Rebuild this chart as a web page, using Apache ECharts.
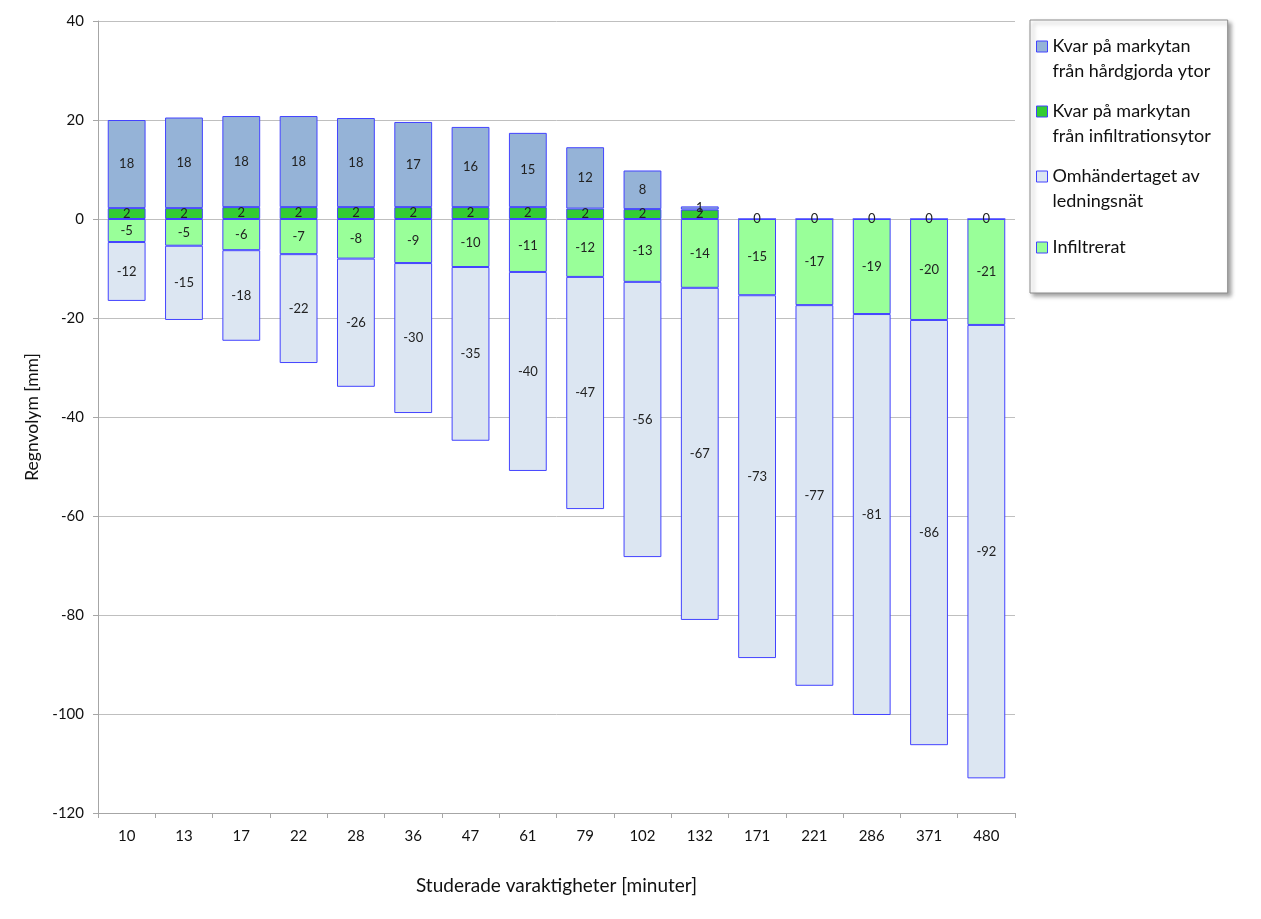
<!DOCTYPE html>
<html>
<head>
<meta charset="utf-8">
<script src="https://cdn.jsdelivr.net/npm/echarts@6/dist/echarts.min.js"></script>
<style>html,body{margin:0;padding:0;background:#fff}#c{width:1261px;height:919px}</style>
</head>
<body>
<div id="c"></div>
<script>
const categories = ['10','13','17','22','28','36','47','61','79','102','132','171','221','286','371','480'];
const kvarHard = [17.8,18.3,18.4,18.4,18.0,17.2,16.2,15.0,12.4,7.8,0.65,null,null,null,null,null];
const kvarInfil = [2.2,2.2,2.4,2.4,2.4,2.4,2.4,2.4,2.1,2.0,1.9,0,0,0,0,0];
const omh = [-11.9,-15.0,-18.3,-22.0,-25.9,-30.3,-35.1,-40.2,-46.9,-55.6,-67.1,-73.3,-76.9,-81.0,-85.9,-91.6];
const infil = [-4.65,-5.4,-6.3,-7.1,-8.0,-8.9,-9.7,-10.7,-11.7,-12.7,-13.9,-15.4,-17.4,-19.2,-20.4,-21.4];
const yTicks = {min:-120, max:40, interval:20};
const names = ['Kvar på markytan\nfrån hårdgjorda ytor','Kvar på markytan\nfrån infiltrationsytor','Omhändertaget av\nledningsnät','Infiltrerat'];

const FONT = 'Lato';
const BORDER = '#4343ff';
const topIcon = 'path://M0,36 M0,0 L11,0 L11,11 L0,11 Z';
const midIcon = 'path://M0,0 M0,36 M0,12.5 L11,12.5 L11,23.5 L0,23.5 Z';

function mk(name, data, color, stack){
  return {
    name, type:'bar', stack, data,
    barWidth:'66%',
    itemStyle:{color, borderColor:BORDER, borderWidth:1},
    label:{show:true, position:'inside', color:'#222', fontFamily:FONT, fontSize:13,
      formatter:p => (p.value===null||p.value===undefined)?'':String(Math.round(p.value))},
    emphasis:{disabled:true}
  };
}

const chart = echarts.init(document.getElementById('c'), null, {renderer:'canvas'});
chart.setOption({
  animation:false,
  backgroundColor:'#fff',
  grid:{left:98, right:246, top:21, bottom:106, containLabel:false},
  legend:{
    orient:'vertical', left:1030, top:20,
    padding:[14,17,27,6],
    itemGap:15,
    itemWidth:11, itemHeight:36,
    backgroundColor:'#fff', borderColor:'#8c8c8c', borderWidth:1,
    shadowColor:'rgba(0,0,0,0.35)', shadowBlur:4, shadowOffsetX:3, shadowOffsetY:3,
    textStyle:{fontFamily:FONT, fontSize:18, color:'#111', lineHeight:25},
    itemStyle:{borderColor:BORDER, borderWidth:1},
    selectedMode:false,
    data:[
      {name:names[0], icon:topIcon},
      {name:names[1], icon:topIcon},
      {name:names[2], icon:topIcon},
      {name:names[3], icon:midIcon}
    ]
  },
  xAxis:{
    type:'category', data:categories,
    name:'Studerade varaktigheter [minuter]', nameLocation:'middle', nameGap:63,
    nameTextStyle:{fontFamily:FONT, fontSize:19, color:'#111'},
    axisLine:{onZero:false, lineStyle:{color:'#a6a6a6'}},
    axisTick:{show:true, length:5, lineStyle:{color:'#a6a6a6'}},
    axisLabel:{fontFamily:FONT, fontSize:15, color:'#111', margin:16}
  },
  yAxis:{
    type:'value', min:yTicks.min, max:yTicks.max, interval:yTicks.interval,
    name:'Regnvolym [mm]', nameLocation:'middle', nameGap:53, nameRotate:90,
    nameTextStyle:{fontFamily:FONT, fontSize:17.5, color:'#111'},
    axisLine:{show:true, lineStyle:{color:'#a6a6a6'}},
    axisTick:{show:true, length:5, lineStyle:{color:'#a6a6a6'}},
    axisLabel:{fontFamily:FONT, fontSize:15, color:'#111', margin:14},
    splitLine:{show:true, lineStyle:{color:'#bfbfbf'}}
  },
  series:[
    mk(names[1], kvarInfil, '#33cc33', 'a'),
    mk(names[0], kvarHard, '#95b3d7', 'a'),
    mk(names[3], infil, '#99ff99', 'a'),
    mk(names[2], omh, '#dce6f2', 'a')
  ]
});
</script>
</body>
</html>
